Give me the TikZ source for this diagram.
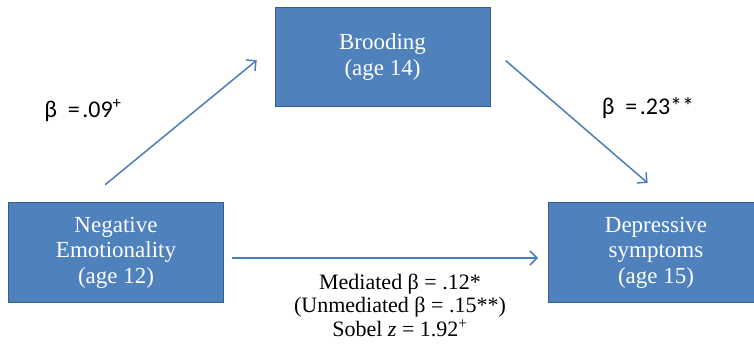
\documentclass[tikz,border=0pt]{standalone}
\usepackage{fontspec}
\setmainfont{Liberation Serif}
\newfontfamily\betafont{Carlito}
\usetikzlibrary{arrows.meta,
                positioning}
\definecolor{boxblue}{HTML}{4F81BD}
\definecolor{boxline}{HTML}{385D8A}
\definecolor{arrblue}{HTML}{4A7EBB}

\begin{document}
\begin{tikzpicture}[
     x = 1pt, y = -1pt,
   box/.style = {rectangle, draw=boxline, fill=boxblue, line width=1pt,
                 text=white, align=center,
                 minimum width=215pt, minimum height=99pt,
                 font=\fontsize{23}{25.5}\selectfont},
   arr/.style = {draw=arrblue, line width=1.5pt,
                 -{Straight Barb[length=7pt, width=14pt]}},
  beta/.style = {font=\betafont\fontsize{24}{26}\selectfont},
   est/.style = {align=center, font=\fontsize{22}{23.5}\selectfont}
                        ]
\useasboundingbox (0,0) rectangle (754,352);
% boxes
\node[box] (brood) at (382.5,57)  {Brooding\\(age 14)};
\node[box] (neg)   at (116,252.5) {Negative\\Emotionality\\(age 12)};
\node[box] (dep)   at (656,252.5) {Depressive\\symptoms\\(age 15)};
% paths
\draw[arr, shorten <=28pt, shorten >=23pt]   (neg.123.7) -- (brood.174.7);
\draw[arr, shorten <=20pt, shorten >=30pt]   (brood.5.3) -- (dep.74.2);
\draw[arr, shorten <=8pt,  shorten >=10pt]
    ([yshift=-5.5pt]neg.east) -- ([yshift=-5.5pt]dep.west);
% estimates
\node[beta] (b1) at (83,110)
    {β\hspace{0.45em}=\hspace{0.1em}.09\textsuperscript{+}};
\node[beta] (b2) at (648,108)
    {β\hspace{0.45em}=\hspace{0.1em}.23**};
\node[est]  (b3) at (400,305) {Mediated β = .12*\\
                               (Unmediated β = .15**)\\
                               Sobel \textit{z} = 1.92\textsuperscript{+}};
\end{tikzpicture}
\end{document}
